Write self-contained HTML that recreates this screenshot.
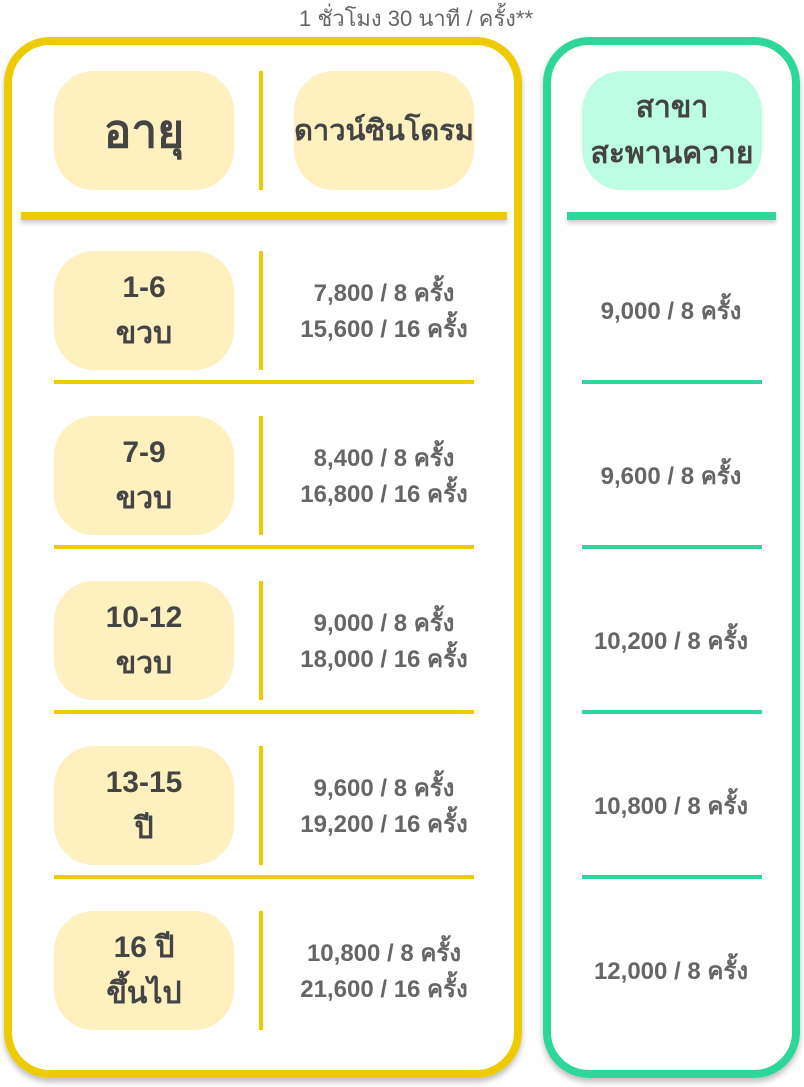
<!DOCTYPE html><html><head><meta charset="utf-8"><style>
body{margin:0;width:804px;height:1087px;background:#fff;position:relative;font-family:"Liberation Sans","Noto Sans CJK SC",sans-serif;overflow:hidden}
.a{position:absolute}
.box{position:absolute;top:37px;height:1025px;border-radius:46px;box-shadow:0 4px 6px rgba(0,0,0,.25)}
.pill{position:absolute;width:180px;height:119px;border-radius:40px;background:#fef0bf;display:flex;align-items:center;justify-content:center;text-align:center;color:#444;font-weight:bold;font-size:30px;line-height:46px}
.g{background:#bdfde3}
.vl{position:absolute;left:259px;width:4px;height:119px;background:#eecb00}
.pr{position:absolute;left:264px;width:240px;text-align:center;color:#666;font-weight:bold;font-size:24px;line-height:36px}
.gp{position:absolute;left:551px;width:240px;text-align:center;color:#666;font-weight:bold;font-size:24px}
.hy{position:absolute;left:54px;width:420px;height:4px;background:#eecb00}
.hg{position:absolute;left:582px;width:180px;height:4px;background:#2dd699}
</style></head><body>
<div class="a" style="left:0;width:804px;top:1px;text-align:center;font-size:22px;color:#666;padding-left:14px">1 ชั่วโมง 30 นาที / ครั้ง**</div>
<div class="box" style="left:4px;width:502px;border:8px solid #eecb00"></div>
<div class="box" style="left:543px;width:241px;border:8px solid #2dd699"></div>
<div class="pill" style="left:54px;top:71px;font-size:46px">อายุ</div>
<div class="vl" style="top:71px"></div>
<div class="pill" style="left:294px;top:71px;font-size:29px;white-space:nowrap">ดาวน์ซินโดรม</div>
<div class="pill g" style="left:582px;top:71px;font-size:30px;line-height:46px;white-space:nowrap">สาขา<br>สะพานควาย</div>
<div class="a" style="left:21px;top:212px;width:486px;height:8px;background:#eecb00;box-shadow:0 3px 4px rgba(0,0,0,.2)"></div>
<div class="a" style="left:567px;top:212px;width:209px;height:8px;background:#2dd699;box-shadow:0 3px 4px rgba(0,0,0,.2)"></div>

<div class="pill" style="left:54px;top:251px">1-6<br>ขวบ</div><div class="vl" style="top:251px"></div>
<div class="pr" style="top:276px">7,800 / 8 ครั้ง<br>15,600 / 16 ครั้ง</div>
<div class="gp" style="top:291px">9,000 / 8 ครั้ง</div>
<div class="hy" style="top:380px"></div><div class="hg" style="top:380px"></div>

<div class="pill" style="left:54px;top:416px">7-9<br>ขวบ</div><div class="vl" style="top:416px"></div>
<div class="pr" style="top:441px">8,400 / 8 ครั้ง<br>16,800 / 16 ครั้ง</div>
<div class="gp" style="top:456px">9,600 / 8 ครั้ง</div>
<div class="hy" style="top:545px"></div><div class="hg" style="top:545px"></div>

<div class="pill" style="left:54px;top:581px">10-12<br>ขวบ</div><div class="vl" style="top:581px"></div>
<div class="pr" style="top:606px">9,000 / 8 ครั้ง<br>18,000 / 16 ครั้ง</div>
<div class="gp" style="top:621px">10,200 / 8 ครั้ง</div>
<div class="hy" style="top:710px"></div><div class="hg" style="top:710px"></div>

<div class="pill" style="left:54px;top:746px">13-15<br>ปี</div><div class="vl" style="top:746px"></div>
<div class="pr" style="top:771px">9,600 / 8 ครั้ง<br>19,200 / 16 ครั้ง</div>
<div class="gp" style="top:786px">10,800 / 8 ครั้ง</div>
<div class="hy" style="top:875px"></div><div class="hg" style="top:875px"></div>

<div class="pill" style="left:54px;top:911px">16 ปี<br>ขึ้นไป</div><div class="vl" style="top:911px"></div>
<div class="pr" style="top:936px">10,800 / 8 ครั้ง<br>21,600 / 16 ครั้ง</div>
<div class="gp" style="top:951px">12,000 / 8 ครั้ง</div>
</body></html>
